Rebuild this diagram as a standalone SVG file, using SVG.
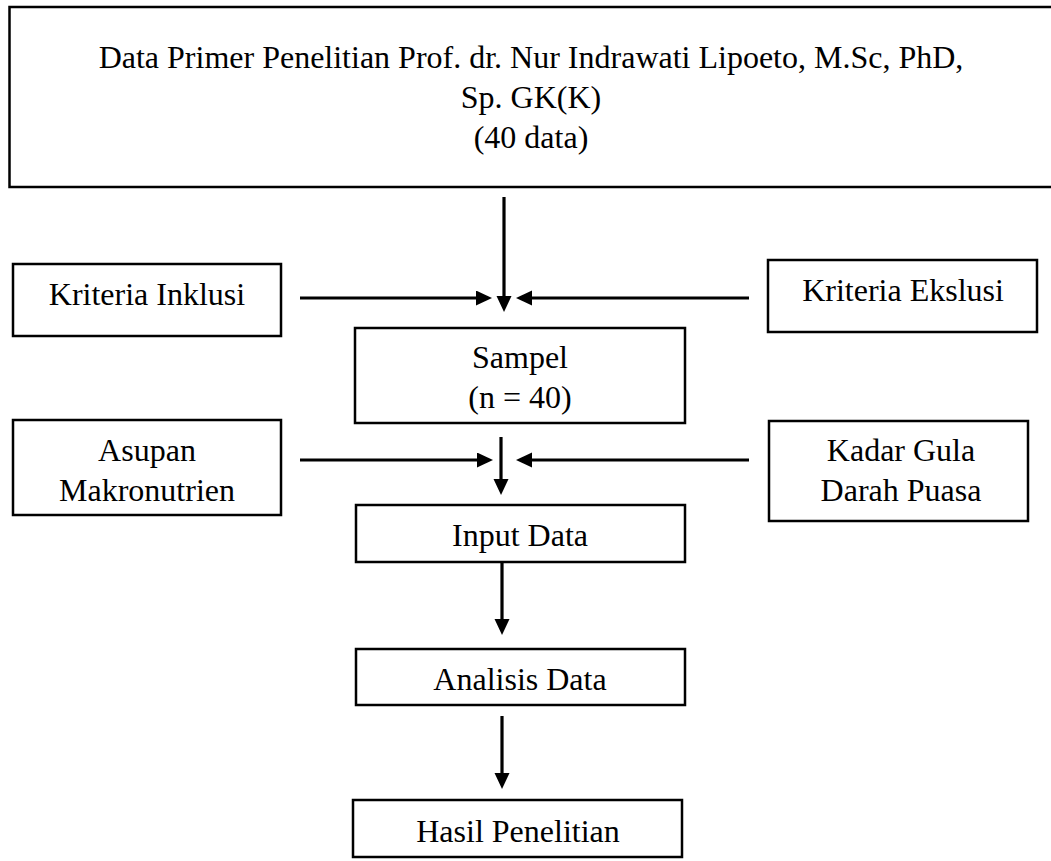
<svg xmlns="http://www.w3.org/2000/svg" width="1051" height="861" viewBox="0 0 1051 861">
  <style>
    .box { fill: #ffffff; stroke: #000000; stroke-width: 2.5; }
    .lbl { font-family: "Liberation Serif", "Times New Roman", serif; font-size: 32px; fill: #000000; text-anchor: middle; }
    .conn { stroke: #000000; stroke-width: 3.2; fill: none; marker-end: url(#arrow); }
  </style>
  <defs>
    <marker id="arrow" markerUnits="userSpaceOnUse" markerWidth="16" markerHeight="16" refX="8" refY="7.5" orient="auto">
      <path d="M0,0 L16,7.5 L0,15 Z" fill="#000000"/>
    </marker>
  </defs>
  <rect width="1051" height="861" fill="#ffffff"/>

  <g id="node-data-primer">
    <rect class="box" x="9.5" y="7" width="1045" height="180"/>
    <text class="lbl" x="531" y="68">Data Primer Penelitian Prof. dr. Nur Indrawati Lipoeto, M.Sc, PhD,</text>
    <text class="lbl" x="531" y="108">Sp. GK(K)</text>
    <text class="lbl" x="531" y="148">(40 data)</text>
  </g>

  <g id="node-kriteria-inklusi">
    <rect class="box" x="13" y="264" width="268" height="72"/>
    <text class="lbl" x="147" y="305">Kriteria Inklusi</text>
  </g>

  <g id="node-kriteria-ekslusi">
    <rect class="box" x="768" y="260" width="269" height="72"/>
    <text class="lbl" x="903" y="301">Kriteria Ekslusi</text>
  </g>

  <g id="node-sampel">
    <rect class="box" x="355" y="328" width="330" height="95"/>
    <text class="lbl" x="520" y="368">Sampel</text>
    <text class="lbl" x="520" y="408">(n = 40)</text>
  </g>

  <g id="node-asupan">
    <rect class="box" x="13" y="420" width="268" height="95"/>
    <text class="lbl" x="147" y="461">Asupan</text>
    <text class="lbl" x="147" y="501">Makronutrien</text>
  </g>

  <g id="node-kadar">
    <rect class="box" x="769" y="421" width="259" height="100"/>
    <text class="lbl" x="901" y="461">Kadar Gula</text>
    <text class="lbl" x="901" y="501">Darah Puasa</text>
  </g>

  <g id="node-input">
    <rect class="box" x="356" y="505" width="329" height="57"/>
    <text class="lbl" x="520" y="546">Input Data</text>
  </g>

  <g id="node-analisis">
    <rect class="box" x="356" y="649" width="329" height="56"/>
    <text class="lbl" x="520" y="690">Analisis Data</text>
  </g>

  <g id="node-hasil">
    <rect class="box" x="353" y="800" width="329" height="57"/>
    <text class="lbl" x="518" y="842">Hasil Penelitian</text>
  </g>

  <g id="connectors">
    <line class="conn" x1="504" y1="197" x2="504" y2="304"/>
    <line class="conn" x1="300" y1="298" x2="484" y2="298"/>
    <line class="conn" x1="749" y1="298" x2="524" y2="298"/>
    <line class="conn" x1="501" y1="437" x2="501" y2="487"/>
    <line class="conn" x1="300" y1="460" x2="485" y2="460"/>
    <line class="conn" x1="749" y1="460" x2="524" y2="460"/>
    <line class="conn" x1="502" y1="563" x2="502" y2="627"/>
    <line class="conn" x1="502" y1="716" x2="502" y2="781"/>
  </g>
</svg>
